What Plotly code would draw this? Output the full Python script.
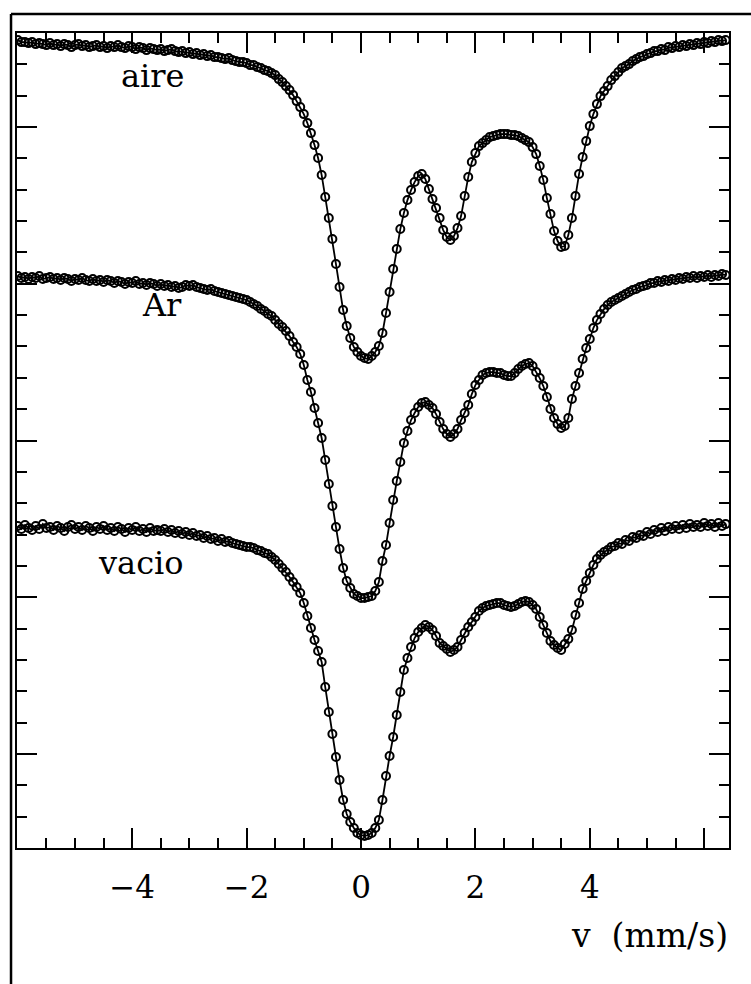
import numpy as np
import plotly.graph_objects as go

# Velocity channels (mm/s)
V_START = -6.0
V_STEP = 0.0625

# Stacked transmission spectra (arbitrary units)
aire = [
    808, 806, 806, 805, 806, 804, 805, 804, 803, 805,
    803, 804, 802, 804, 803, 801, 803, 804, 802, 803,
    801, 802, 803, 801, 802, 800, 802, 801, 803, 801,
    800, 802, 801, 799, 801, 800, 798, 800, 799, 798,
    799, 797, 798, 799, 797, 796, 797, 795, 796, 794,
    795, 793, 794, 792, 793, 791, 791, 790, 789, 790,
    788, 787, 786, 786, 785, 783, 783, 781, 780, 778,
    777, 775, 773, 769, 766, 762, 758, 753, 747, 741,
    734, 725, 715, 703, 690, 673, 651, 630, 609, 584,
    561, 538, 522, 510, 501, 496, 492, 490, 489, 492,
    496, 502, 515, 535, 556, 579, 599, 619, 635, 648,
    658, 666, 672, 674, 669, 659, 649, 640, 630, 618,
    611, 608, 612, 620, 632, 652, 671, 686, 695, 702,
    705, 708, 711, 712, 713, 714, 714, 714, 713, 713,
    712, 710, 708, 706, 701, 694, 682, 668, 650, 634,
    617, 607, 601, 602, 613, 630, 652, 674, 691, 707,
    722, 734, 744, 752, 757, 762, 768, 772, 776, 780,
    782, 784, 787, 789, 791, 792, 794, 795, 797, 797,
    799, 798, 801, 800, 802, 801, 803, 802, 804, 803,
    805, 804, 806, 805, 807, 806, 808, 807, 808,
]

ar = [
    572, 570, 571, 569, 571, 570, 572, 569, 570, 571,
    569, 570, 568, 570, 569, 567, 569, 568, 570, 568,
    567, 569, 567, 568, 566, 568, 567, 565, 567, 566,
    564, 566, 565, 567, 564, 565, 563, 565, 564, 562,
    564, 562, 563, 561, 562, 560, 561, 563, 562, 563,
    561, 560, 559, 558, 559, 557, 556, 555, 554, 553,
    552, 551, 550, 549, 548, 546, 544, 542, 539, 537,
    534, 532, 528, 524, 521, 517, 512, 506, 501, 494,
    483, 468, 456, 440, 425, 410, 388, 364, 342, 321,
    299, 280, 267, 260, 254, 252, 250, 250, 251, 252,
    257, 266, 287, 303, 325, 348, 367, 386, 405, 417,
    428, 435, 441, 445, 446, 443, 440, 434, 426, 419,
    414, 411, 414, 419, 428, 435, 443, 454, 463, 468,
    473, 475, 476, 476, 475, 475, 473, 472, 472, 475,
    479, 482, 484, 485, 482, 476, 470, 462, 451, 439,
    430, 424, 420, 422, 430, 449, 462, 475, 489, 500,
    509, 520, 528, 534, 539, 543, 546, 548, 550, 552,
    554, 556, 558, 559, 561, 562, 563, 565, 565, 567,
    566, 568, 567, 569, 568, 570, 569, 571, 570, 572,
    570, 572, 571, 573, 571, 573, 572, 574, 573,
]

vacio = [
    322, 319, 323, 320, 318, 322, 319, 324, 320, 321,
    318, 322, 320, 317, 321, 323, 319, 321, 318, 322,
    320, 317, 321, 319, 322, 318, 320, 317, 321, 319,
    316, 320, 318, 321, 317, 319, 316, 320, 317, 318,
    317, 319, 316, 318, 315, 317, 314, 316, 313, 315,
    312, 313, 310, 312, 309, 310, 307, 309, 306, 307,
    305, 304, 303, 302, 301, 301, 300, 298, 297, 295,
    294, 291, 288, 284, 280, 276, 271, 266, 261, 255,
    245, 232, 220, 208, 197, 186, 161, 136, 114, 91,
    68, 48, 34, 26, 20, 15, 13, 12, 13, 15,
    20, 28, 48, 72, 92, 111, 133, 156, 178, 190,
    201, 210, 216, 220, 223, 221, 218, 212, 205, 202,
    199, 196, 198, 201, 208, 215, 221, 226, 231, 237,
    240, 242, 243, 244, 245, 245, 243, 242, 241, 242,
    244, 246, 247, 246, 243, 239, 231, 223, 215, 207,
    203, 200, 198, 204, 209, 218, 233, 245, 259, 267,
    275, 283, 289, 293, 296, 298, 301, 302, 305, 304,
    308, 307, 311, 310, 313, 312, 316, 314, 318, 316,
    320, 317, 321, 319, 322, 319, 323, 320, 324, 321,
    323, 321, 325, 322, 324, 321, 325, 322, 324,
]

series_names = ["aire", "Ar", "vacio"]
series_values = [aire, ar, vacio]

x_tickvals = [-6, -4, -2, 0, 2, 4, 6]
x_ticktext = ["", "\u22124", "\u22122", "0", "2", "4", ""]
x_title = "v\u00a0\u00a0(mm/s)"

Y_MINOR = 31.35
y_major = [3 * Y_MINOR, 8 * Y_MINOR, 13 * Y_MINOR, 18 * Y_MINOR, 23 * Y_MINOR]

SERIF = "DejaVu Serif"

fig = go.Figure()
for name, vals in zip(series_names, series_values):
    v = np.round(V_START + V_STEP * np.arange(len(vals)), 4)
    fig.add_trace(go.Scatter(
        x=v, y=vals, mode="lines+markers", name=name,
        line=dict(color="black", width=1.8),
        marker=dict(symbol="circle-open", size=8, color="black",
                    line=dict(width=2, color="black")),
        showlegend=False,
    ))

label_pos = {"aire": (-3.64, 772), "Ar": (-3.48, 543), "vacio": (-3.85, 285)}
for name in series_names:
    lx, ly = label_pos[name]
    fig.add_annotation(x=lx, y=ly, text=name, showarrow=False,
                       font=dict(family=SERIF, size=32, color="black"),
                       xanchor="center", yanchor="middle")

fig.add_annotation(x=1.0014, y=-0.107, xref="paper", yref="paper",
                   text=x_title, showarrow=False,
                   font=dict(family=SERIF, size=33, color="black"),
                   xanchor="right", yanchor="middle")

# outer frame of the scanned page
fig.add_shape(type="line", xref="paper", yref="paper",
              x0=-0.0084, y0=1.0233, x1=1.06, y1=1.0233,
              line=dict(color="black", width=2.5))
fig.add_shape(type="line", xref="paper", yref="paper",
              x0=-0.0084, y0=1.0233, x1=-0.0084, y1=-0.18,
              line=dict(color="black", width=2.5))

fig.update_xaxes(
    range=[-6.014, 6.434], showgrid=False, zeroline=False,
    showline=True, linecolor="black", linewidth=2, mirror="ticks",
    ticks="inside", ticklen=20, tickwidth=1.8, tickcolor="black",
    tickmode="array", tickvals=x_tickvals, ticktext=x_ticktext,
    tickfont=dict(family=SERIF, size=31, color="black"),
    ticklabelstandoff=11,
    minor=dict(ticks="inside", ticklen=10, tickwidth=1.8, tickcolor="black",
               tickmode="linear", tick0=0, dtick=0.5, showgrid=False),
)
fig.update_yaxes(
    range=[0, 815.1], showgrid=False, zeroline=False,
    showline=True, linecolor="black", linewidth=2, mirror="ticks",
    ticks="inside", ticklen=20, tickwidth=1.8, tickcolor="black",
    tickmode="array", tickvals=y_major, showticklabels=False,
    minor=dict(ticks="inside", ticklen=10, tickwidth=1.8, tickcolor="black",
               tickmode="linear", tick0=0, dtick=Y_MINOR, showgrid=False),
)

fig.update_layout(
    width=751, height=984,
    margin=dict(l=17, r=22, t=33, b=136),
    paper_bgcolor="white", plot_bgcolor="white",
    showlegend=False,
)

fig.write_html("out.html")
